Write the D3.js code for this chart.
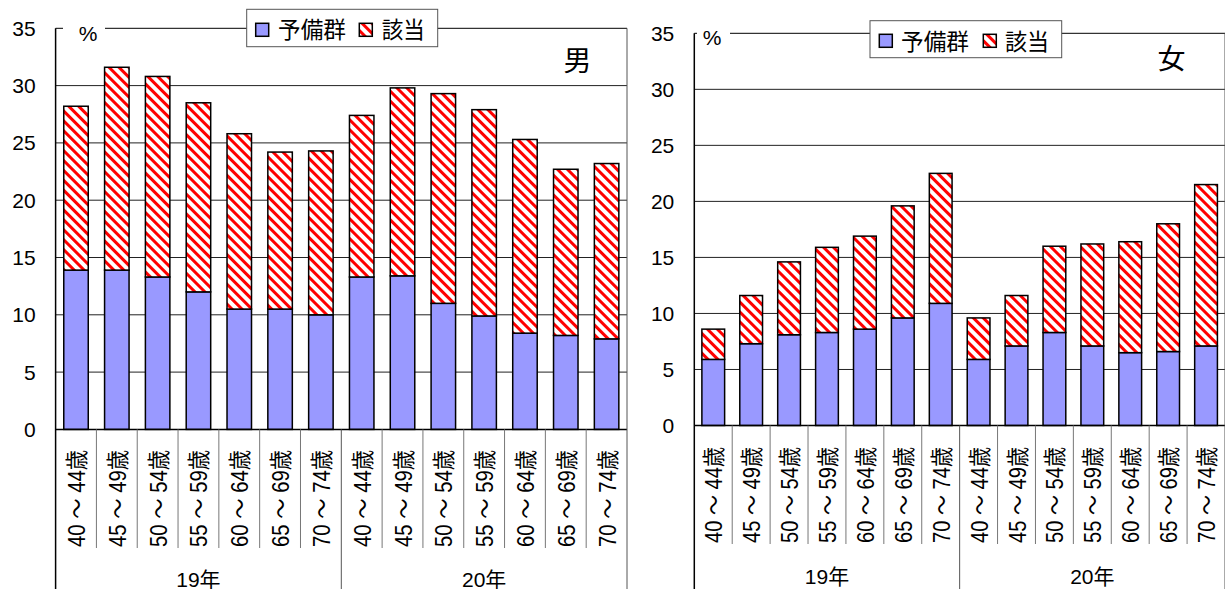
<!DOCTYPE html>
<html><head><meta charset="utf-8">
<script src="https://cdn.jsdelivr.net/npm/d3@7"></script>
<style>
body{margin:0;background:#fff}
svg{display:block}
text{font-family:"Liberation Sans","Noto Sans CJK JP",sans-serif;fill:#000}
</style>
</head><body>
<svg id="c" width="1225" height="589"></svg>
<script>
// ---- data ----
const ageGroups = ["40 ～ 44歳","45 ～ 49歳","50 ～ 54歳","55 ～ 59歳","60 ～ 64歳","65 ～ 69歳","70 ～ 74歳"];
const years = ["19年","20年"];
const seriesNames = ["予備群","該当"];
const yTicks = [0,5,10,15,20,25,30,35];
const maleYobi   = [13.9,13.9,13.3,12.0,10.5,10.5,10.0, 13.3,13.4,11.0,9.9,8.4,8.2,7.9];
const maleGaitou = [14.3,17.7,17.5,16.5,15.3,13.7,14.3, 14.1,16.4,18.3,18.0,16.9,14.5,15.3];
const femaleYobi   = [5.9,7.3,8.1,8.3,8.6,9.6,10.9, 5.9,7.1,8.3,7.1,6.5,6.6,7.1];
const femaleGaitou = [2.7,4.3,6.5,7.6,8.3,10.0,11.6, 3.7,4.5,7.7,9.1,9.9,11.4,14.4];
const panelTitles = ["男","女"];

// ---- build ----
const svg = d3.select("#c");
const defs = svg.append("defs");
const pat = defs.append("pattern").attr("id","hatch")
  .attr("patternUnits","userSpaceOnUse").attr("width",7).attr("height",7)
  .attr("patternTransform","rotate(-45)");
pat.append("rect").attr("width",7).attr("height",7).attr("fill","#fff");
pat.append("rect").attr("width",3).attr("height",7).attr("fill","#ff0000");

const fills = ["#9999ff","url(#hatch)"];

const keys = [];
years.forEach(y => ageGroups.forEach(a => keys.push(y + "|" + a)));

function panel(cfg, yobi, gaitou, title){
  const g = svg.append("g");
  const x = d3.scaleBand().domain(keys).range([cfg.x0, cfg.x1]).paddingInner(0.4).paddingOuter(0.2);
  const y = d3.scaleLinear().domain([0,35]).range([cfg.y0, cfg.yTop]);
  const rows = keys.map((k,i) => ({key:k, "予備群":yobi[i], "該当":gaitou[i]}));
  const stacked = d3.stack().keys(seriesNames)(rows);

  // gridlines
  g.append("g").selectAll("line").data(yTicks.filter(t=>t>0)).join("line")
    .attr("x1",cfg.x0).attr("x2",cfg.x1).attr("y1",d=>y(d)).attr("y2",d=>y(d))
    .attr("stroke",d=>d===35?"#000":"#222").attr("stroke-width",1);

  // bars
  stacked.forEach((s,si) => {
    g.append("g").selectAll("rect").data(s).join("rect")
      .attr("x",d=>x(d.data.key)).attr("width",x.bandwidth())
      .attr("y",d=>y(d[1])).attr("height",d=>y(d[0])-y(d[1]))
      .attr("fill",fills[si]).attr("stroke","#000").attr("stroke-width",1.5);
  });

  // y axis line and labels
  g.append("line").attr("x1",cfg.x0).attr("x2",cfg.x0).attr("y1",cfg.yTop).attr("y2",589)
    .attr("stroke","#000").attr("stroke-width",1.5);
  g.append("line").attr("x1",cfg.x0).attr("x2",cfg.x1).attr("y1",cfg.y0).attr("y2",cfg.y0)
    .attr("stroke","#000").attr("stroke-width",1.5);
  g.append("g").selectAll("text").data(yTicks).join("text")
    .attr("x",cfg.x0-20).attr("y",d=>y(d)).attr("text-anchor","end")
    .attr("dominant-baseline","central").attr("font-size",21).text(d=>d);

  // category tick lines
  const step = x.step();
  const bounds = d3.range(1,14);
  g.append("g").selectAll("line").data(bounds.filter(i=>i!==7)).join("line")
    .attr("x1",i=>cfg.x0+i*step).attr("x2",i=>cfg.x0+i*step)
    .attr("y1",cfg.y0).attr("y2",cfg.tickEnd).attr("stroke","#777").attr("stroke-width",1);
  g.append("g").selectAll("line").data([7,14]).join("line")
    .attr("x1",i=>cfg.x0+i*step).attr("x2",i=>cfg.x0+i*step)
    .attr("y1",i=>i===14?cfg.yTop:cfg.y0).attr("y2",589).attr("stroke","#555").attr("stroke-width",1);

  // category labels
  g.append("g").selectAll("text").data(keys).join("text")
    .attr("transform",k=>`translate(${x(k)+x.bandwidth()/2+1},${cfg.tickEnd-1}) rotate(-90)`)
    .attr("text-anchor","start").attr("dominant-baseline","central")
    .attr("font-size",23).attr("textLength",cfg.labLen).attr("lengthAdjust","spacingAndGlyphs")
    .text(k=>k.split("|")[1]);

  // year labels
  g.append("g").selectAll("text").data(years).join("text")
    .attr("x",(d,i)=>cfg.x0+(i*7+3.5)*step).attr("y",cfg.yearY)
    .attr("text-anchor","middle").attr("dominant-baseline","central")
    .attr("font-size",21).text(d=>d);

  // % label
  g.append("rect").attr("x",cfg.pctBox[0]).attr("y",cfg.yTop-10).attr("width",cfg.pctBox[1]-cfg.pctBox[0]).attr("height",20).attr("fill","#fff");
  g.append("text").attr("x",cfg.pct[0]).attr("y",cfg.pct[1]).attr("text-anchor","middle")
    .attr("dominant-baseline","central").attr("font-size",21).text("%");

  // legend
  const L = cfg.legend;
  g.append("rect").attr("x",L.x).attr("y",L.y).attr("width",L.w).attr("height",L.h)
    .attr("fill","#fff").attr("stroke","#555").attr("stroke-width",1);
  seriesNames.forEach((s,i) => {
    g.append("rect").attr("x",L.sw[i]).attr("y",L.swy).attr("width",13).attr("height",13)
      .attr("fill",fills[i]).attr("stroke","#000").attr("stroke-width",1.5);
    g.append("text").attr("x",L.tx[i]).attr("y",L.ty).attr("dominant-baseline","central")
      .attr("font-size",23).attr("textLength",L.tl[i]).attr("lengthAdjust","spacingAndGlyphs").text(s);
  });

  // title
  g.append("text").attr("x",cfg.title[0]).attr("y",cfg.title[1]).attr("text-anchor","middle")
    .attr("dominant-baseline","central").attr("font-size",28).text(title);
}

panel({x0:55.6,x1:627,y0:429.4,yTop:28.3,tickEnd:548,yearY:579,labLen:97,
  pct:[88,33],pctBox:[63,105],
  legend:{x:246.7,y:9.3,w:191,h:37.4,sw:[255.7,359.3],swy:23.3,tx:[278,381.7],ty:30,tl:[68,43]},
  title:[577.5,61]}, maleYobi, maleGaitou, panelTitles[0]);

panel({x0:694.3,x1:1225,y0:425.5,yTop:33.3,tickEnd:544,yearY:576,labLen:96,
  pct:[712,37],pctBox:[697,730],
  legend:{x:870,y:20.7,w:191.7,h:37,sw:[879.3,983.3],swy:34.3,tx:[901,1005],ty:41.5,tl:[68,44]},
  title:[1171.5,59]}, femaleYobi, femaleGaitou, panelTitles[1]);
</script>
</body></html>
